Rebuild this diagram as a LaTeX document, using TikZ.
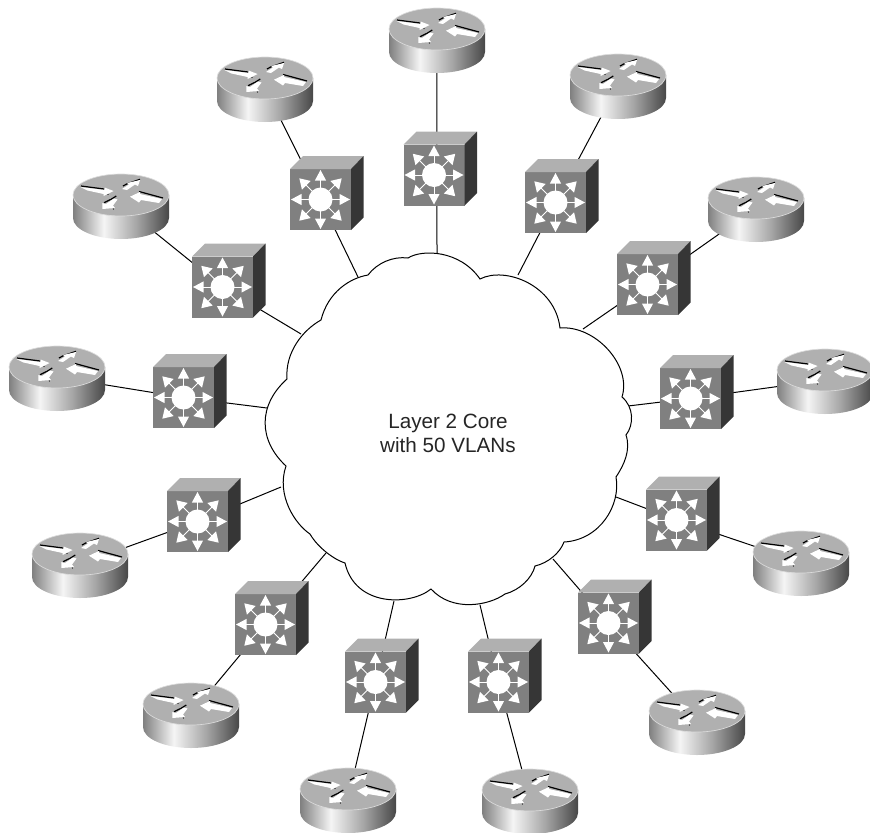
\documentclass[tikz,border=0pt]{standalone}
\usepackage{fontspec}
\setmainfont{Liberation Sans}
\usetikzlibrary{backgrounds}

\pgfdeclarehorizontalshading{routerside}{100bp}{
    color(0bp)=(black!50);
    color(25bp)=(black!50);
    color(41bp)=(black!4);
    color(58bp)=(black!35);
    color(75bp)=(black!72);
    color(100bp)=(black!72)
}

\tikzset{
    iconbody/.style={inner sep=0pt, minimum size=0pt},
    switchicon/.pic={
        \fill[black!50] (-30.5,-30.5) rectangle (30.5,30.5);
        \fill[black!31] (-30.5,-30.5) -- (-17.5,-43.5) -- (43,-43.5) -- (30.5,-30.5) -- cycle;
        \fill[black!79] (30.5,-30.5) -- (43,-43.5) -- (43,18) -- (30.5,30.5) -- cycle;
        \fill[white] (0,0) circle (12);
        \foreach \ang in {0,90,180,270} {
            \draw[white, line width=0.7pt, rotate=\ang] (11,0) -- (20,0);
            \fill[white, rotate=\ang] (29.5,0) -- (19,-5.6) -- (19,5.6) -- cycle;
        }
        \foreach \ang in {45,135,225,315} {
            \draw[white, line width=0.7pt, rotate=\ang] (11,0) -- (21,0);
            \fill[white, rotate=\ang] (30,0) -- (20,-6.2) -- (20,6.2) -- cycle;
        }
        \node[iconbody] (-body) at (0,0) {};
    },
    routericon/.pic={
        \shade[shading=routerside] (-48,0) -- (-48,23) arc[start angle=180, end angle=360, x radius=48, y radius=-21] -- (48,0) -- cycle;
        \fill[black!31, draw=black!14, line width=0.5pt] (0,0) ellipse[x radius=48, y radius=21];
        % black edges of the arrows
        \draw[black, line width=0.9pt] (-40,-9) -- (-17,-6);
        \draw[black, line width=0.9pt] (2,-9) -- (6.3,-11.3) -- (19,-15.7);
        \draw[black, line width=0.9pt] (-17,7.7) -- (-10,4.3) -- (-4.7,1);
        \draw[black, line width=0.9pt] (18,-3.5) -- (42,3);
        \fill[black] (-13,-0.5) circle (0.6) (-7.5,14) circle (0.7);
        % white arrows
        \fill[white] (-40.5,-8) -- (-16.5,-5) -- (-16.5,-7.5) -- (-7.5,-4) -- (-17.5,1) -- (-17.5,-1) -- (-33.5,-4.5) -- cycle;
        \fill[white] (19,-15) -- (17,-9) -- (14,-10.5) -- (6,-5) -- (1,-6) -- (8,-10.5) -- (6,-12) -- cycle;
        \fill[white] (-18.7,14) -- (-18.7,8) -- (-15,9) -- (-7,3.5) -- (-3.5,4.5) -- (-8,10.5) -- (-6,13) -- cycle;
        \fill[white] (9,1.7) -- (19,-3) -- (19,-1) -- (41,4) -- (38,8) -- (20,5) -- (18,7.5) -- cycle;
        \node[iconbody] (-body) at (0,10) {};
    }
}

\begin{document}
\begin{tikzpicture}[
    x=0.75pt,
    y=-0.75pt,
    link/.style={draw=black, line width=0.75pt},
    cloudline/.style={draw=black, line width=0.75pt, fill=white, line join=miter},
    corelabel/.style={align=center, text=black!85, font=\fontsize{15.5}{18}\selectfont}
]
\useasboundingbox (0,0) rectangle (870,832);

% Core cloud
\path[cloudline] (408,258)
    .. controls (422,249) and (460,250) .. (480,279)
    .. controls (505,266) and (555,285) .. (560,328)
    .. controls (595,325) and (632,365) .. (622,397)
    .. controls (634,407) and (634,425) .. (626,435)
    .. controls (631,450) and (624,465) .. (616,477)
    .. controls (621,505) and (600,540) .. (564,542)
    .. controls (560,553) and (548,563) .. (535,566)
    .. controls (532,578) and (520,590) .. (505,594)
    .. controls (488,606) and (452,612) .. (431,589)
    .. controls (410,606) and (355,607) .. (345,563)
    .. controls (335,560) and (318,548) .. (310,534)
    .. controls (295,524) and (276,495) .. (286,466)
    .. controls (258,440) and (258,405) .. (287,379)
    .. controls (285,352) and (303,330) .. (321,320)
    .. controls (328,292) and (350,278) .. (368,275)
    .. controls (377,263) and (393,256) .. (408,258)
    -- cycle;
\node[corelabel] (core) at (448,433) {Layer 2 Core\\with 50 VLANs};

% Where the links meet the cloud
\coordinate (cla) at (437,253);
\coordinate (clb) at (518,275);
\coordinate (clc) at (583,329);
\coordinate (cld) at (628,406);
\coordinate (cle) at (616,497);
\coordinate (clf) at (553,559);
\coordinate (clg) at (480,605);
\coordinate (clh) at (394,601);
\coordinate (cli) at (326,553);
\coordinate (clj) at (281,487);
\coordinate (clk) at (267,408);
\coordinate (cll) at (301,334);
\coordinate (clm) at (358,277);

% Switches
\pic (swa) at (434,175) {switchicon};
\pic (swb) at (555.5,202.5) {switchicon};
\pic (swc) at (647.5,284.5) {switchicon};
\pic (swd) at (690.5,398.5) {switchicon};
\pic (swe) at (676.5,520) {switchicon};
\pic (swf) at (608.5,623) {switchicon};
\pic (swg) at (498.5,682) {switchicon};
\pic (swh) at (375.5,682) {switchicon};
\pic (swi) at (265.5,624.5) {switchicon};
\pic (swj) at (197.5,521.5) {switchicon};
\pic (swk) at (183.5,397.5) {switchicon};
\pic (swl) at (222.5,287) {switchicon};
\pic (swm) at (320.5,199.5) {switchicon};

% Routers
\pic (rta) at (437,29) {routericon};
\pic (rtb) at (618,75) {routericon};
\pic (rtc) at (756,198) {routericon};
\pic (rtd) at (825,370) {routericon};
\pic (rte) at (801,552) {routericon};
\pic (rtf) at (697,711) {routericon};
\pic (rtg) at (530,790) {routericon};
\pic (rth) at (348,789) {routericon};
\pic (rti) at (191,704) {routericon};
\pic (rtj) at (80,554) {routericon};
\pic (rtk) at (57,367) {routericon};
\pic (rtl) at (121,195) {routericon};
\pic (rtm) at (265,78) {routericon};

% Links
\begin{scope}[on background layer]
\draw[link] (cla) -- ([xshift=2.2pt]swa-body.center);
\draw[link] ([xshift=2.2pt]swa-body.center) -- (rta-body);
\draw[link] (clb) -- (swb-body);
\draw[link] (swb-body) -- (rtb-body);
\draw[link] (clc) -- (swc-body);
\draw[link] (swc-body) -- (rtc-body);
\draw[link] (cld) -- (swd-body);
\draw[link] (swd-body) -- (rtd-body);
\draw[link] (cle) -- (swe-body);
\draw[link] (swe-body) -- (rte-body);
\draw[link] (clf) -- (swf-body);
\draw[link] (swf-body) -- (rtf-body);
\draw[link] (clg) -- (swg-body);
\draw[link] (swg-body) -- (rtg-body);
\draw[link] (clh) -- (swh-body);
\draw[link] (swh-body) -- (rth-body);
\draw[link] (cli) -- (swi-body);
\draw[link] (swi-body) -- (rti-body);
\draw[link] (clj) -- (swj-body);
\draw[link] (swj-body) -- (rtj-body);
\draw[link] (clk) -- (swk-body);
\draw[link] (swk-body) -- (rtk-body);
\draw[link] (cll) -- (swl-body);
\draw[link] (swl-body) -- (rtl-body);
\draw[link] (clm) -- (swm-body);
\draw[link] (swm-body) -- (rtm-body);
\end{scope}

\end{tikzpicture}
\end{document}
